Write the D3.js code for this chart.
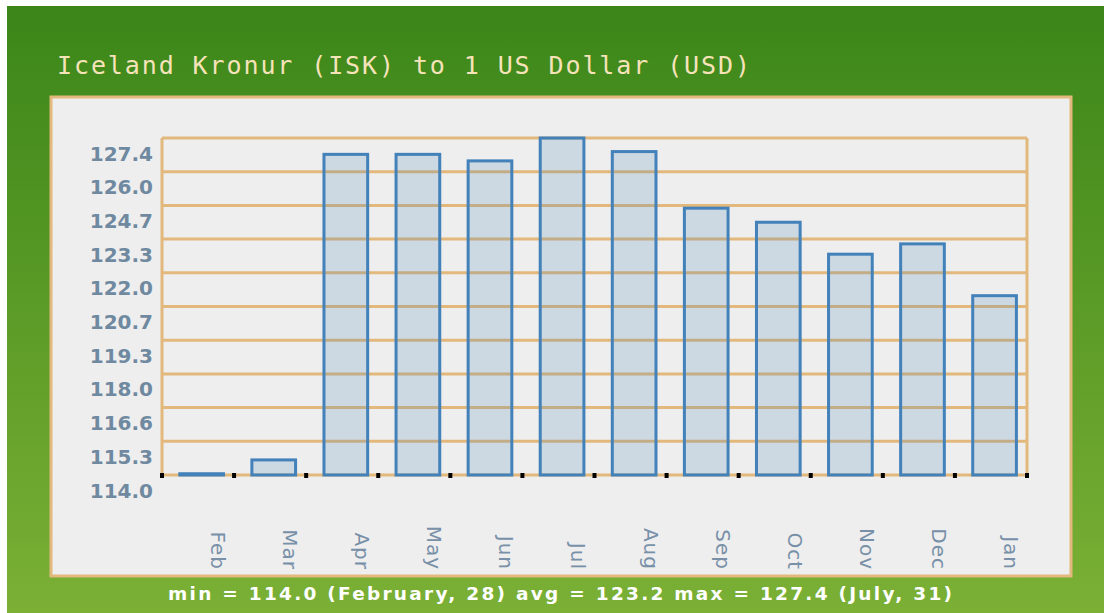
<!DOCTYPE html>
<html>
<head>
<meta charset="utf-8">
<script src="https://cdn.jsdelivr.net/npm/d3@7"></script>
<style>
    body { margin: 0; background: #ffffff; }
    svg { display: block; }
</style>
</head>
<body>
<div id="chart"></div>
<script>
// ISK per 1 USD, monthly bar chart

const width = 1104;
const height = 613;

// ---------- Data ----------
const months = ["Feb", "Mar", "Apr", "May", "Jun", "Jul", "Aug", "Sep", "Oct", "Nov", "Dec", "Jan"];
const rates = [114.05, 114.60, 126.75, 126.75, 126.49, 127.4, 126.86, 124.61, 124.05, 122.78, 123.19, 121.13];
const yTickLabels = ["114.0", "115.3", "116.6", "118.0", "119.3", "120.7", "122.0", "123.3", "124.7", "126.0", "127.4"];
const titleText = "Iceland Kronur (ISK) to 1 US Dollar (USD)";
const summaryText = "min = 114.0 (February, 28) avg = 123.2  max = 127.4 (July, 31)";

// plot box
const plot = { left: 162, right: 1027, top: 138, bottom: 475 };

const svg = d3.select("#chart")
    .append("svg")
    .attr("width", width)
    .attr("height", height);

// green gradient background
const grad = svg.append("defs").append("linearGradient")
    .attr("id", "bg")
    .attr("x1", 0).attr("y1", 0).attr("x2", 0).attr("y2", 1);
grad.append("stop").attr("offset", "0%").attr("stop-color", "#3b8619");
grad.append("stop").attr("offset", "100%").attr("stop-color", "#7bb035");

svg.append("rect")
    .attr("x", 7).attr("y", 6)
    .attr("width", width - 7).attr("height", height - 6)
    .attr("fill", "url(#bg)");

// inner light panel
svg.append("rect")
    .attr("x", 51).attr("y", 97)
    .attr("width", 1020).attr("height", 479)
    .attr("fill", "#eeeeee")
    .attr("stroke", "#e2b87c")
    .attr("stroke-width", 3);

svg.append("text")
    .attr("x", 57)
    .attr("y", 74)
    .attr("fill", "#f6e3b9")
    .style("font-family", "'DejaVu Sans Mono', monospace")
    .style("font-size", "25px")
    .attr("textLength", 693)
    .attr("lengthAdjust", "spacing")
    .text(titleText);

// ---------- Scales ----------
const x = d3.scaleBand()
    .domain(months)
    .range([plot.left, plot.right]);

const y = d3.scaleLinear()
    .domain([114.0, 127.4])
    .range([plot.bottom, plot.top]);

const tickValues = yTickLabels.map((t, i) => 114.0 + i * (127.4 - 114.0) / (yTickLabels.length - 1));

// ---------- Grid ----------
const grid = svg.append("g");

grid.selectAll("line.h")
    .data(tickValues)
    .enter()
    .append("line")
    .attr("x1", plot.left).attr("x2", plot.right)
    .attr("y1", d => y(d)).attr("y2", d => y(d))
    .attr("stroke", "#e2b87c")
    .attr("stroke-width", 3);

grid.selectAll("line.v")
    .data([plot.left, plot.right])
    .enter()
    .append("line")
    .attr("x1", d => d).attr("x2", d => d)
    .attr("y1", plot.top).attr("y2", plot.bottom)
    .attr("stroke", "#e2b87c")
    .attr("stroke-width", 3);

// y labels (sit just under their grid line)
svg.append("g")
    .selectAll("text")
    .data(tickValues)
    .enter()
    .append("text")
    .attr("x", 153)
    .attr("y", d => y(d) + 22.5)
    .attr("text-anchor", "end")
    .attr("fill", "#6f89a0")
    .style("font-family", "'DejaVu Sans', Verdana, sans-serif")
    .style("font-weight", "bold")
    .style("font-size", "20px")
    .text((d, i) => yTickLabels[i]);

// ---------- Bars ----------
const bw = x.bandwidth();

svg.append("g")
    .selectAll("rect")
    .data(months)
    .enter()
    .append("rect")
    .attr("x", d => x(d) + bw * 0.247)
    .attr("width", bw * 0.606)
    .attr("y", (d, i) => y(rates[i]))
    .attr("height", (d, i) => plot.bottom - y(rates[i]))
    .attr("fill", "rgba(70, 130, 180, 0.2)")
    .attr("stroke", "#4281b9")
    .attr("stroke-width", 3);

// black tick marks on the baseline at band edges
const edges = months.map(m => x(m)).concat([plot.right]);
svg.append("g")
    .selectAll("rect")
    .data(edges)
    .enter()
    .append("rect")
    .attr("x", d => d - 2)
    .attr("y", plot.bottom - 2)
    .attr("width", 4)
    .attr("height", 5)
    .attr("fill", "#000000");

// month labels, rotated
svg.append("g")
    .selectAll("text")
    .data(months)
    .enter()
    .append("text")
    .attr("transform", d => `translate(${x(d) + bw * 0.68}, 570) rotate(90)`)
    .attr("text-anchor", "end")
    .attr("fill", "#7890a8")
    .style("font-family", "'DejaVu Sans', Verdana, sans-serif")
    .style("font-size", "20px")
    .style("letter-spacing", "1px")
    .text(d => d);

// summary line
svg.append("text")
    .attr("x", 168)
    .attr("y", 600)
    .attr("fill", "#ffffff")
    .style("font-family", "'DejaVu Sans', Verdana, sans-serif")
    .style("font-weight", "bold")
    .style("font-size", "18.5px")
    .attr("textLength", 784)
    .attr("lengthAdjust", "spacing")
    .text(summaryText);
</script>
</body>
</html>
